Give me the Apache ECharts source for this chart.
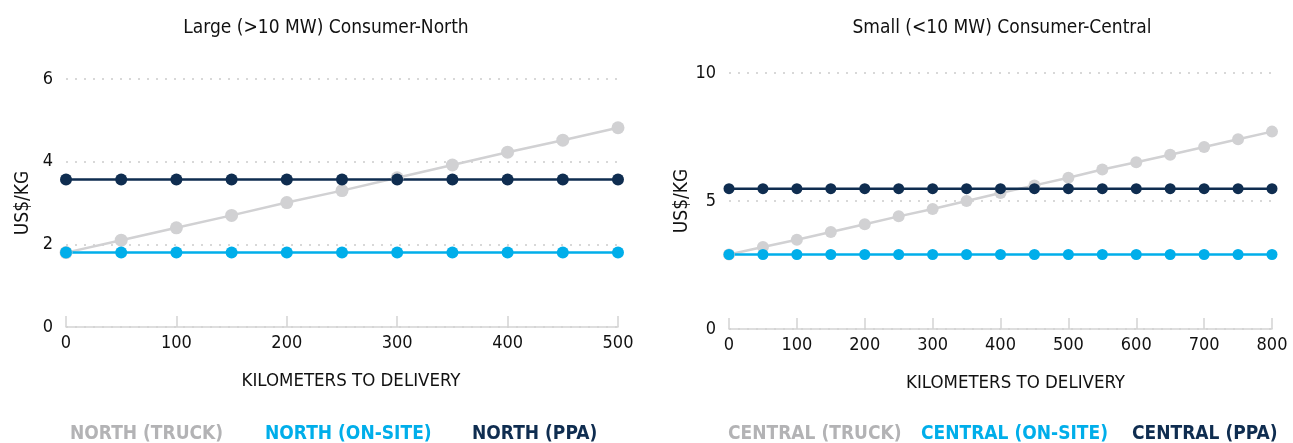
<!DOCTYPE html>
<html>
<head>
<meta charset="utf-8">
<script src="https://cdn.jsdelivr.net/npm/echarts@6/dist/echarts.min.js"></script>
<style>
  html, body { margin: 0; padding: 0; background: #ffffff; }
  #chart { width: 1293px; height: 443px; }
</style>
</head>
<body>
<div id="chart"></div>
<script>
// Delivered hydrogen cost by distance, two consumer cases
const northKm = [0, 50, 100, 150, 200, 250, 300, 350, 400, 450, 500];
const northTruck = [1.80, 2.10, 2.40, 2.70, 3.01, 3.30, 3.61, 3.92, 4.23, 4.52, 4.82];
const northOnSite = [1.80, 1.80, 1.80, 1.80, 1.80, 1.80, 1.80, 1.80, 1.80, 1.80, 1.80];
const northPPA = [3.57, 3.57, 3.57, 3.57, 3.57, 3.57, 3.57, 3.57, 3.57, 3.57, 3.57];

const centralKm = [0, 50, 100, 150, 200, 250, 300, 350, 400, 450, 500, 550, 600, 650, 700, 750, 800];
const centralTruck = [2.91, 3.20, 3.49, 3.79, 4.09, 4.40, 4.69, 5.00, 5.31, 5.61, 5.91, 6.23, 6.51, 6.81, 7.11, 7.41, 7.71];
const centralOnSite = [2.91, 2.91, 2.91, 2.91, 2.91, 2.91, 2.91, 2.91, 2.91, 2.91, 2.91, 2.91, 2.91, 2.91, 2.91, 2.91, 2.91];
const centralPPA = [5.48, 5.48, 5.48, 5.48, 5.48, 5.48, 5.48, 5.48, 5.48, 5.48, 5.48, 5.48, 5.48, 5.48, 5.48, 5.48, 5.48];

const titles = ['Large (>10 MW) Consumer-North', 'Small (<10 MW) Consumer-Central'];
const yAxisName = 'US$/KG';
const xAxisName = 'KILOMETERS TO DELIVERY';
const northNames = ['NORTH (TRUCK)', 'NORTH (ON-SITE)', 'NORTH (PPA)'];
const centralNames = ['CENTRAL (TRUCK)', 'CENTRAL (ON-SITE)', 'CENTRAL (PPA)'];

const FONT = '"DejaVu Sans Condensed", "Open Sans", sans-serif';
const COLORS = { truck: '#d1d1d3', onsite: '#00aeea', ppa: '#0f2d50' };
const LEGEND_COLORS = ['#b3b3b5', '#00aeea', '#0f2d50'];
// left edge of each legend entry
const northLegendLeft = [65, 260, 467];
const centralLegendLeft = [723, 916, 1127];

function pairs(xs, ys) { return xs.map((x, i) => [x, ys[i]]); }

function lineSeries(name, color, xs, ys, idx, size) {
  return {
    name: name, type: 'line', xAxisIndex: idx, yAxisIndex: idx,
    data: pairs(xs, ys),
    symbol: 'circle', symbolSize: size, showSymbol: true,
    lineStyle: { color: color, width: 2.5 },
    itemStyle: { color: color },
    emphasis: { disabled: true },
    animation: false
  };
}

function xAxis(idx, max, shift) {
  return {
    type: 'value', gridIndex: idx, min: 0, max: max, interval: 100,
    name: xAxisName, nameLocation: 'middle', nameGap: 45,
    nameTextStyle: { fontFamily: FONT, fontSize: 18.5, color: '#111', padding: [0, 0, 0, shift] },
    axisLine: { show: true, lineStyle: { color: '#d4d4d4', width: 1.5 } },
    axisTick: { show: true, inside: true, length: 11, lineStyle: { color: '#d4d4d4', width: 1.5 } },
    axisLabel: { fontFamily: FONT, fontSize: 18, color: '#111', margin: 7 },
    splitLine: { show: false }
  };
}

function yAxis(idx, max, interval, gap) {
  return {
    type: 'value', gridIndex: idx, min: 0, max: max, interval: interval,
    name: yAxisName, nameLocation: 'middle', nameGap: gap, nameRotate: 90,
    nameTextStyle: { fontFamily: FONT, fontSize: 19, color: '#111' },
    axisLine: { show: false }, axisTick: { show: false },
    axisLabel: { fontFamily: FONT, fontSize: 18, color: '#111', margin: 13 },
    splitLine: { show: true, lineStyle: { color: '#d8d8d8', type: [2, 7], width: 2 } }
  };
}

function legendItem(name, color, left) {
  return {
    left: left, top: 425, padding: 0, icon: 'none', itemWidth: 0, itemHeight: 0,
    selectedMode: false,
    data: [{ name: name, textStyle: { color: color } }],
    textStyle: { fontFamily: FONT, fontSize: 19, fontWeight: 'bold', padding: 0 }
  };
}

const legends = []
  .concat(northNames.map((n, i) => legendItem(n, LEGEND_COLORS[i], northLegendLeft[i])))
  .concat(centralNames.map((n, i) => legendItem(n, LEGEND_COLORS[i], centralLegendLeft[i])));

const chart = echarts.init(document.getElementById('chart'), null, { renderer: 'canvas' });
chart.setOption({
  backgroundColor: '#ffffff',
  animation: false,
  title: [
    { text: titles[0], left: 321, top: 14, textAlign: 'center',
      textStyle: { fontFamily: FONT, fontSize: 19, fontWeight: 'normal', color: '#111' } },
    { text: titles[1], left: 997, top: 14, textAlign: 'center',
      textStyle: { fontFamily: FONT, fontSize: 19, fontWeight: 'normal', color: '#111' } }
  ],
  legend: legends,
  grid: [
    { left: 66, right: 675, top: 79, bottom: 116 },
    { left: 729, right: 21, top: 73, bottom: 114 }
  ],
  xAxis: [xAxis(0, 500, 18), xAxis(1, 800, 30)],
  yAxis: [yAxis(0, 6, 2, 33), yAxis(1, 10, 5, 30)],
  series: [
    lineSeries(northNames[0], COLORS.truck, northKm, northTruck, 0, 13),
    lineSeries(northNames[1], COLORS.onsite, northKm, northOnSite, 0, 12),
    lineSeries(northNames[2], COLORS.ppa, northKm, northPPA, 0, 12),
    lineSeries(centralNames[0], COLORS.truck, centralKm, centralTruck, 1, 12),
    lineSeries(centralNames[1], COLORS.onsite, centralKm, centralOnSite, 1, 11),
    lineSeries(centralNames[2], COLORS.ppa, centralKm, centralPPA, 1, 11)
  ]
});
</script>
</body>
</html>
